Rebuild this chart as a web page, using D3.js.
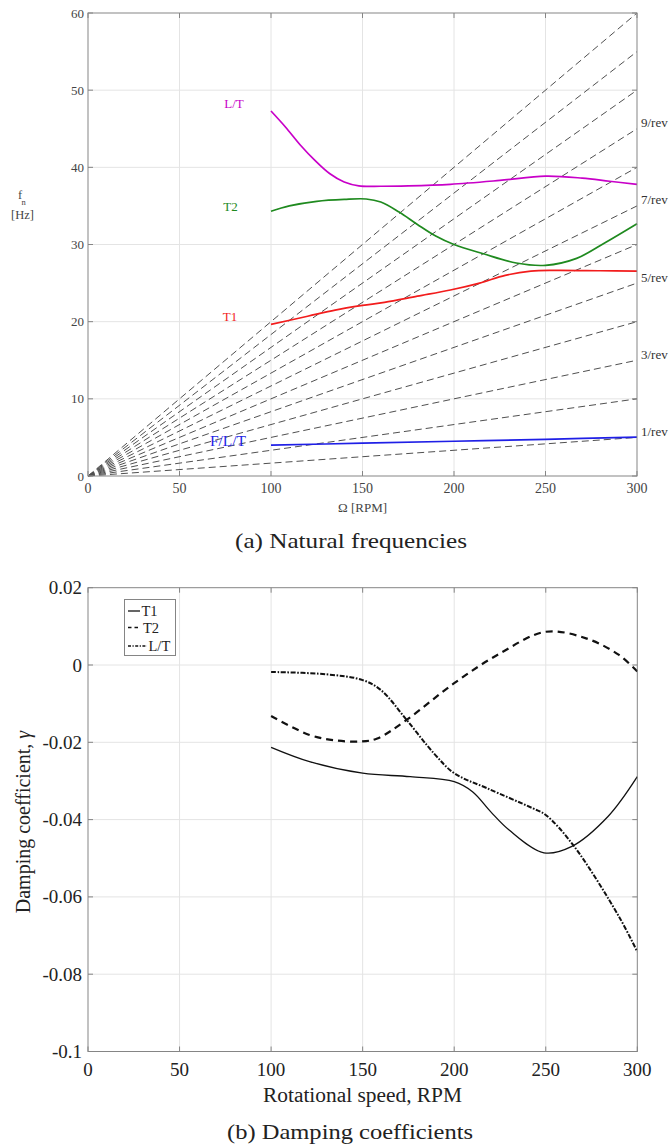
<!DOCTYPE html>
<html><head><meta charset="utf-8">
<script src="https://cdn.jsdelivr.net/npm/d3@7"></script>
<style>body{margin:0;background:#fff} svg{display:block}</style>
</head><body>
<svg id="c" width="670" height="1144"></svg>
<script>
// ---------- data ----------
const rpmTicks = [0, 50, 100, 150, 200, 250, 300];
const freqTicks = [0, 10, 20, 30, 40, 50, 60];
const dampTicks = [0.02, 0, -0.02, -0.04, -0.06, -0.08, -0.1];
const revOrders = [1, 2, 3, 4, 5, 6, 7, 8, 9, 10, 11, 12];
const revLabelOrders = [1, 3, 5, 7, 9];

// natural frequencies [Hz] vs rotational speed [RPM]
const freqLT_rpm = [100, 108, 116, 124, 132, 140, 148, 160, 175, 198, 225, 250, 270, 285, 300];
const freqLT     = [47.3, 45.2, 42.9, 40.9, 39.2, 38.1, 37.6, 37.55, 37.6, 37.8, 38.3, 38.85, 38.6, 38.2, 37.8];
const freqT2_rpm = [100, 110, 125, 140, 152, 160, 170, 180, 190, 200, 216, 234, 250, 267, 283, 300];
const freqT2     = [34.3, 35.0, 35.6, 35.85, 35.9, 35.5, 34.2, 32.6, 31.1, 30.0, 28.8, 27.6, 27.3, 28.2, 30.3, 32.7];
const freqT1_rpm = [100, 120, 135, 150, 162, 180, 198, 214, 228, 242, 255, 280, 300];
const freqT1     = [19.65, 20.7, 21.5, 22.1, 22.5, 23.3, 24.1, 25.0, 26.0, 26.55, 26.65, 26.6, 26.55];
const freqFLT_rpm = [100, 150, 200, 250, 300];
const freqFLT     = [4.0, 4.25, 4.5, 4.75, 5.05];

// damping coefficients vs rotational speed
const dampT1_rpm = [100, 121, 150, 176, 200, 210, 220, 230, 249, 264, 284, 300];
const dampT1     = [-0.0213, -0.025, -0.028, -0.0289, -0.0302, -0.0328, -0.038, -0.0427, -0.0486, -0.047, -0.0392, -0.0289];
const dampT2_rpm = [100, 121, 135, 149, 158, 174, 200, 225, 250, 272, 290, 300];
const dampT2     = [-0.0132, -0.0181, -0.0195, -0.0198, -0.019, -0.0142, -0.0047, 0.003, 0.0086, 0.0069, 0.0026, -0.0017];
const dampLT_rpm = [100, 130, 150, 160, 174, 189, 200, 218, 243, 250, 265, 290, 300];
const dampLT     = [-0.0018, -0.0024, -0.0039, -0.0065, -0.0142, -0.0229, -0.028, -0.0319, -0.0371, -0.0388, -0.0466, -0.0651, -0.0742];

// ---------- drawing ----------
const svg = d3.select("#c");
const serif = "'Liberation Serif','Times New Roman',serif";
const gridCol = "#e4e4e4", boxCol = "#858585";

function zip(xs, ys) { return xs.map((x, i) => [x, ys[i]]); }

function frame(g, x, y, xt, yt) {
  const [x0, x1] = x.range(), [y0, y1] = y.range();
  g.append("g").selectAll("line").data(xt.filter(d => d !== x.domain()[0] && d !== x.domain()[1]))
    .join("line").attr("x1", d => x(d)).attr("x2", d => x(d)).attr("y1", y0).attr("y2", y1)
    .attr("stroke", gridCol).attr("stroke-width", 1);
  g.append("g").selectAll("line").data(yt.filter(d => d !== y.domain()[0] && d !== y.domain()[1]))
    .join("line").attr("y1", d => y(d)).attr("y2", d => y(d)).attr("x1", x0).attr("x2", x1)
    .attr("stroke", gridCol).attr("stroke-width", 1);
}
function box(g, x, y, xt, yt, tickLen) {
  const [x0, x1] = x.range(), [y0, y1] = y.range();
  const t = g.append("g").attr("stroke", boxCol).attr("stroke-width", 1);
  xt.forEach(d => {
    t.append("line").attr("x1", x(d)).attr("x2", x(d)).attr("y1", y0).attr("y2", y0 - tickLen);
    t.append("line").attr("x1", x(d)).attr("x2", x(d)).attr("y1", y1).attr("y2", y1 + tickLen);
  });
  yt.forEach(d => {
    t.append("line").attr("y1", y(d)).attr("y2", y(d)).attr("x1", x0).attr("x2", x0 + tickLen);
    t.append("line").attr("y1", y(d)).attr("y2", y(d)).attr("x1", x1).attr("x2", x1 - tickLen);
  });
  g.append("rect").attr("x", x0).attr("y", y1).attr("width", x1 - x0).attr("height", y0 - y1)
    .attr("fill", "none").attr("stroke", boxCol).attr("stroke-width", 1);
}
function fit(sel, w) { sel.attr("textLength", w).attr("lengthAdjust", "spacingAndGlyphs"); return sel; }

// ===== (a) Natural frequencies =====
const xA = d3.scaleLinear().domain([0, 300]).range([88, 637]);
const yA = d3.scaleLinear().domain([0, 60]).range([476, 13]);
const gA = svg.append("g");
frame(gA, xA, yA, rpmTicks, freqTicks);

// n/rev excitation lines
gA.append("g").selectAll("line").data(revOrders).join("line")
  .attr("x1", xA(0)).attr("y1", yA(0))
  .attr("x2", xA(300)).attr("y2", n => yA(n * 300 / 60))
  .attr("stroke", "#505050").attr("stroke-width", 1).attr("stroke-dasharray", "7,4");

const lineA = d3.line().x(d => xA(d[0])).y(d => yA(d[1])).curve(d3.curveCatmullRom.alpha(0.5));
const seriesA = [
  { pts: zip(freqLT_rpm, freqLT), col: "#c800c8" },
  { pts: zip(freqT2_rpm, freqT2), col: "#1f8a1f" },
  { pts: zip(freqT1_rpm, freqT1), col: "#f21c1c" },
  { pts: zip(freqFLT_rpm, freqFLT), col: "#1f1fe6" }
];
gA.append("g").selectAll("path").data(seriesA).join("path")
  .attr("d", d => lineA(d.pts)).attr("fill", "none")
  .attr("stroke", d => d.col).attr("stroke-width", 1.7);

box(gA, xA, yA, rpmTicks, freqTicks, 5);

// tick labels
gA.append("g").selectAll("text").data(freqTicks).join("text")
  .attr("x", 84).attr("y", d => yA(d) + 4.5).attr("text-anchor", "end")
  .attr("font-family", serif).attr("font-size", 13).attr("fill", "#444").text(d => d);
gA.append("g").selectAll("text").data(rpmTicks).join("text")
  .attr("x", d => xA(d)).attr("y", 493).attr("text-anchor", "middle")
  .attr("font-family", serif).attr("font-size", 14).attr("fill", "#444").text(d => d);

// axis labels
gA.append("text").attr("x", (xA(0) + xA(300)) / 2).attr("y", 512).attr("text-anchor", "middle")
  .attr("font-family", serif).attr("font-size", 13).attr("fill", "#444").text("Ω [RPM]");
gA.append("text").attr("x", 20).attr("y", 199).attr("text-anchor", "middle")
  .attr("font-family", serif).attr("font-size", 12.5).attr("fill", "#444").text("f");
gA.append("text").attr("x", 23.5).attr("y", 205).attr("text-anchor", "middle")
  .attr("font-family", serif).attr("font-size", 8.5).attr("fill", "#444").text("n");
gA.append("text").attr("x", 22.5).attr("y", 219).attr("text-anchor", "middle")
  .attr("font-family", serif).attr("font-size", 12.5).attr("fill", "#444").text("[Hz]");

// curve labels
const curveLabels = [
  { t: "L/T", rpm: 79.8, f: 47.7, col: "#c800c8", fs: 13 },
  { t: "T2", rpm: 77.9, f: 34.4, col: "#1f8a1f", fs: 13 },
  { t: "T1", rpm: 77.6, f: 20.1, col: "#f21c1c", fs: 13 },
  { t: "F/L/T", rpm: 76.5, f: 3.95, col: "#1f1fe6", fs: 15.5 }
];
gA.append("g").selectAll("text").data(curveLabels).join("text")
  .attr("x", d => xA(d.rpm)).attr("y", d => yA(d.f)).attr("text-anchor", "middle")
  .attr("font-family", serif).attr("font-size", d => d.fs).attr("fill", d => d.col).text(d => d.t);

// n/rev labels
gA.append("g").selectAll("text").data(revLabelOrders).join("text")
  .attr("x", 641).attr("y", n => yA(n * 300 / 60) - 1.5)
  .attr("font-family", serif).attr("font-size", 13).attr("fill", "#333").text(n => n + "/rev");

// caption
fit(gA.append("text").attr("x", 351).attr("y", 548).attr("text-anchor", "middle")
  .attr("font-family", serif).attr("font-size", 22).attr("fill", "#222").text("(a) Natural frequencies"), 232);

// ===== (b) Damping coefficients =====
const xB = d3.scaleLinear().domain([0, 300]).range([88, 637.3]);
const yB = d3.scaleLinear().domain([-0.1, 0.02]).range([1051.5, 587.7]);
const gB = svg.append("g");
frame(gB, xB, yB, rpmTicks, dampTicks);

const lineB = d3.line().x(d => xB(d[0])).y(d => yB(d[1])).curve(d3.curveCatmullRom.alpha(0.5));
const seriesB = [
  { name: "T1", pts: zip(dampT1_rpm, dampT1), dash: null, w: 1.3 },
  { name: "T2", pts: zip(dampT2_rpm, dampT2), dash: "7,5", w: 2.2 },
  { name: "L/T", pts: zip(dampLT_rpm, dampLT), dash: "5,1.6,1.6,1.6", w: 2.0 }
];
gB.append("g").selectAll("path").data(seriesB).join("path")
  .attr("d", d => lineB(d.pts)).attr("fill", "none").attr("stroke", "#111")
  .attr("stroke-width", d => d.w).attr("stroke-dasharray", d => d.dash);

box(gB, xB, yB, rpmTicks, dampTicks, 5);

gB.append("g").selectAll("text").data(dampTicks).join("text")
  .attr("x", 82).attr("y", d => yB(d) + 6.5).attr("text-anchor", "end")
  .attr("font-family", serif).attr("font-size", 19).attr("fill", "#222")
  .text(d => d === 0 ? "0" : String(+d.toFixed(2)));
gB.append("g").selectAll("text").data(rpmTicks).join("text")
  .attr("x", d => xB(d)).attr("y", 1075.5).attr("text-anchor", "middle")
  .attr("font-family", serif).attr("font-size", 19).attr("fill", "#222").text(d => d);

fit(gB.append("text").attr("x", 362.5).attr("y", 1101.5).attr("text-anchor", "middle")
  .attr("font-family", serif).attr("font-size", 20).attr("fill", "#222").text("Rotational speed, RPM"), 199);

const yl = gB.append("text").attr("transform", "translate(30,822) rotate(-90)")
  .attr("text-anchor", "middle").attr("font-family", serif).attr("font-size", 20).attr("fill", "#222");
yl.append("tspan").text("Damping coefficient, ");
yl.append("tspan").attr("font-style", "italic").text("γ");

fit(gB.append("text").attr("x", 350).attr("y", 1139).attr("text-anchor", "middle")
  .attr("font-family", serif).attr("font-size", 22).attr("fill", "#222").text("(b) Damping coefficients"), 246);

// legend
const lg = gB.append("g");
lg.append("rect").attr("x", 124.5).attr("y", 599.5).attr("width", 51).attr("height", 56)
  .attr("fill", "#fff").attr("stroke", boxCol).attr("stroke-width", 1);
const legendItems = [
  { name: "T1", y: 611, x2: 140, tx: 141.5, dash: null, w: 1.3 },
  { name: "T2", y: 627.5, x2: 140, tx: 143, dash: "3.5,3", w: 1.3 },
  { name: "L/T", y: 646, x2: 147, tx: 148.5, dash: "3,1.5,1.2,1.5", w: 1.3 }
];
legendItems.forEach(it => {
  lg.append("line").attr("x1", 128).attr("x2", it.x2).attr("y1", it.y).attr("y2", it.y)
    .attr("stroke", "#111").attr("stroke-width", it.w).attr("stroke-dasharray", it.dash);
  lg.append("text").attr("x", it.tx).attr("y", it.y + 5).attr("font-family", serif)
    .attr("font-size", 14.5).attr("fill", "#222").text(it.name);
});
</script>
</body></html>
